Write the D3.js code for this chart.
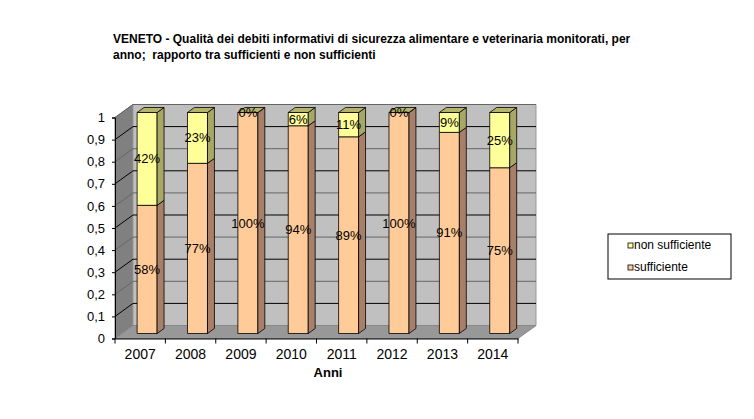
<!DOCTYPE html>
<html>
<head>
<meta charset="utf-8">
<script src="https://cdn.jsdelivr.net/npm/d3@7"></script>
<style>
  body { margin: 0; background: #fff; }
  text { font-family: "Liberation Sans", Arial, sans-serif; }
</style>
</head>
<body>
<script>
// chart data
var anni = ["2007", "2008", "2009", "2010", "2011", "2012", "2013", "2014"];
var sufficiente = [0.58, 0.77, 1.00, 0.94, 0.89, 1.00, 0.91, 0.75];
var nonSufficiente = [0.42, 0.23, 0.00, 0.06, 0.11, 0.00, 0.09, 0.25];
var yTicks = [0, 0.1, 0.2, 0.3, 0.4, 0.5, 0.6, 0.7, 0.8, 0.9, 1];
var titleLines = ["VENETO - Qualità dei debiti informativi di sicurezza alimentare e veterinaria monitorati, per",
                  "anno;  rapporto tra sufficienti e non sufficienti"];

var width = 754, height = 419;

var svg = d3.select("body")
            .append("svg")
            .attr("width", width)
            .attr("height", height);

// front plane scales
var xScale = d3.scaleBand()
  .domain(anni)
  .range([115, 518]);

var xEdge = d3.scaleLinear()
  .domain([0, anni.length])
  .range([115, 518]);

var yScale = d3.scaleLinear()
  .domain([0, 1])
  .range([338.5, 117.5]);

// depth offset (front -> back wall)
var depthX = 18, depthY = -13;
function pt(x, y, d) {
  return [x + depthX * d, y + depthY * d];
}
function poly(points) {
  return points.map(function(p) { return p.join(","); }).join(" ");
}

// title
svg.selectAll(".title")
  .data(titleLines)
  .enter()
  .append("text")
  .attr("class", "title")
  .attr("x", 113)
  .attr("y", function(d, i) { return 43 + i * 16; })
  .style("font-size", "12px")
  .style("font-weight", "bold")
  .style("white-space", "pre")
  .text(function(d) { return d; });

var x0 = xEdge(0), x1 = xEdge(anni.length);
var yb = yScale(0), yt = yScale(1);

// left wall
svg.append("polygon")
  .attr("points", poly([pt(x0, yb, 0), pt(x0, yt, 0), pt(x0, yt, 1), pt(x0, yb, 1)]))
  .attr("fill", "#808080")
  .attr("stroke", "#777");

// back wall
svg.append("polygon")
  .attr("points", poly([pt(x0, yb, 1), pt(x0, yt, 1), pt(x1, yt, 1), pt(x1, yb, 1)]))
  .attr("fill", "#c0c0c0")
  .attr("stroke", "#999");

// floor
svg.append("polygon")
  .attr("points", poly([pt(x0, yb, 0), pt(x1, yb, 0), pt(x1, yb, 1), pt(x0, yb, 1)]))
  .attr("fill", "#989898")
  .attr("stroke", "#888");

// gridlines on left wall and back wall
yTicks.slice(1).forEach(function(v, i) {
  var col = (i % 2 === 0) ? "#000" : "#666";
  var y = yScale(v);
  var a = pt(x0, y, 0), b = pt(x0, y, 1), c = pt(x1, y, 1);
  svg.append("polyline")
    .attr("points", poly([a, b, c]))
    .attr("fill", "none")
    .attr("stroke", col)
    .attr("stroke-width", 1);
});

// bars
var d0 = 0.385, d1 = 0.77, barW = 20;
var dataset = anni.map(function(a, i) {
  return {anno: a, suff: sufficiente[i], non: nonSufficiente[i]};
});

var segs = [];
dataset.forEach(function(d) {
  segs.push({anno: d.anno, v0: 0, v1: d.suff, val: d.suff, front: "#ffcc99", side: "#a8806a", top: "#b89070", isTop: false});
  segs.push({anno: d.anno, v0: d.suff, v1: d.suff + d.non, val: d.non, front: "#ffff99", side: "#a8a866", top: "#b4b46e", isTop: true});
});

var bars = svg.append("g");
segs.forEach(function(s) {
  var cx = xScale(s.anno) + xScale.bandwidth() / 2;
  var xl = cx - barW / 2, xr = cx + barW / 2;
  var ya = yScale(s.v0), yz = yScale(s.v1);
  // front face
  bars.append("polygon")
    .attr("points", poly([pt(xl, ya, d0), pt(xr, ya, d0), pt(xr, yz, d0), pt(xl, yz, d0)]))
    .attr("fill", s.front)
    .attr("stroke", "#000")
    .attr("stroke-width", 0.8);
  // side face
  bars.append("polygon")
    .attr("points", poly([pt(xr, ya, d0), pt(xr, ya, d1), pt(xr, yz, d1), pt(xr, yz, d0)]))
    .attr("fill", s.side)
    .attr("stroke", "#000")
    .attr("stroke-width", 0.8);
  // top face
  if (s.isTop) {
    bars.append("polygon")
      .attr("points", poly([pt(xl, yz, d0), pt(xr, yz, d0), pt(xr, yz, d1), pt(xl, yz, d1)]))
      .attr("fill", s.top)
      .attr("stroke", "#000")
      .attr("stroke-width", 0.8);
  }
});

// data labels
svg.selectAll(".lbl")
  .data(segs)
  .enter()
  .append("text")
  .attr("class", "lbl")
  .attr("x", function(s) { return pt(xScale(s.anno) + xScale.bandwidth() / 2, 0, d0)[0]; })
  .attr("y", function(s) { return pt(0, yScale((s.v0 + s.v1) / 2), d0)[1]; })
  .attr("dy", "0.35em")
  .attr("text-anchor", "middle")
  .style("font-size", "13px")
  .attr("fill", "#000")
  .text(function(s) { return Math.round(s.val * 100) + "%"; });

// y axis
var yAxis = svg.append("g")
  .attr("transform", "translate(" + x0 + ",0)")
  .call(d3.axisLeft(yScale)
    .tickValues(yTicks)
    .tickSize(3)
    .tickFormat(function(d) { return d3.format("")(Math.round(d * 10) / 10).replace(".", ","); }));
yAxis.select(".domain").attr("stroke", "#000");
yAxis.selectAll("text")
  .style("font-size", "13px")
  .style("font-family", "'Liberation Sans', Arial, sans-serif")
  .attr("x", -10);

// x axis
var xAxis = svg.append("g")
  .attr("transform", "translate(0," + yb + ")")
  .call(d3.axisBottom(xScale).tickSize(0).tickPadding(11));
xAxis.select(".domain").attr("stroke", "#000");
xAxis.selectAll("text")
  .style("font-size", "14px")
  .style("font-family", "'Liberation Sans', Arial, sans-serif");

svg.append("g")
  .selectAll("line")
  .data(d3.range(anni.length + 1))
  .enter()
  .append("line")
  .attr("x1", function(i) { return xEdge(i); })
  .attr("x2", function(i) { return xEdge(i); })
  .attr("y1", yb)
  .attr("y2", yb + 5)
  .attr("stroke", "#000");

// axis title
svg.append("text")
  .attr("x", 328)
  .attr("y", 377)
  .attr("text-anchor", "middle")
  .style("font-size", "13px")
  .style("font-weight", "bold")
  .text("Anni");

// legend
var legend = svg.append("g");
legend.append("rect")
  .attr("x", 608)
  .attr("y", 234)
  .attr("width", 123)
  .attr("height", 45)
  .attr("fill", "#fff")
  .attr("stroke", "#000");

var legendItems = [{name: "non sufficiente", color: "#ffff99"}, {name: "sufficiente", color: "#ffcc99"}];
legend.selectAll(".sw")
  .data(legendItems)
  .enter()
  .append("rect")
  .attr("class", "sw")
  .attr("x", 628)
  .attr("y", function(d, i) { return 243 + i * 22; })
  .attr("width", 5)
  .attr("height", 5)
  .attr("fill", function(d) { return d.color; })
  .attr("stroke", "#000")
  .attr("stroke-width", 0.8);

legend.selectAll(".lt")
  .data(legendItems)
  .enter()
  .append("text")
  .attr("class", "lt")
  .attr("x", 634)
  .attr("y", function(d, i) { return 249 + i * 22; })
  .style("font-size", "12px")
  .text(function(d) { return d.name; });
</script>
</body>
</html>
